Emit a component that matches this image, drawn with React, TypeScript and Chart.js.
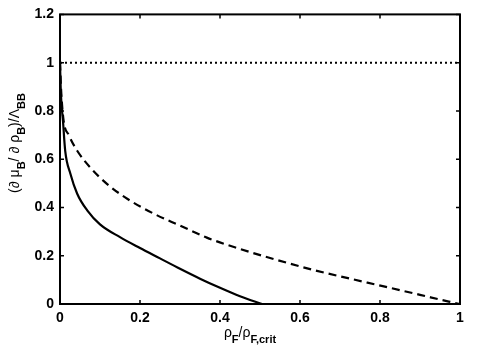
import React, { useEffect, useRef } from "react";
import { Chart, registerables } from "chart.js";

Chart.register(...registerables);

const solidX = [0, 0.002, 0.0076, 0.013, 0.026, 0.043, 0.068, 0.1, 0.15, 0.2, 0.25, 0.3, 0.35, 0.4, 0.45, 0.505];
const solidY = [1, 0.88, 0.755, 0.635, 0.54, 0.457, 0.388, 0.33, 0.277, 0.232, 0.189, 0.146, 0.105, 0.067, 0.032, 0];

const dashedX = [0, 0.003, 0.009, 0.022, 0.043, 0.076, 0.118, 0.169, 0.236, 0.3, 0.367, 0.45, 0.514, 0.636, 0.72, 0.804, 0.9, 0.972, 1];
const dashedY = [1, 0.88, 0.76, 0.7, 0.635, 0.565, 0.497, 0.435, 0.373, 0.325, 0.275, 0.228, 0.196, 0.14, 0.107, 0.075, 0.038, 0.01, 0];

const dottedX = [0, 1];
const dottedY = [1, 1];

const xTicks = [0, 0.2, 0.4, 0.6, 0.8, 1];
const yTicks = [0, 0.2, 0.4, 0.6, 0.8, 1, 1.2];

type Seg = { t: string; sub?: boolean };

const xTitle: Seg[] = [
  { t: "ρ" }, { t: "F", sub: true }, { t: "/ρ" }, { t: "F,crit", sub: true },
];
const yTitle: Seg[] = [
  { t: "(∂ μ" }, { t: "B", sub: true }, { t: "/ ∂ ρ" }, { t: "B", sub: true }, { t: ")/Λ" }, { t: "BB", sub: true },
];

const MAIN_FONT = "14px 'Liberation Sans', Arial, sans-serif";
const SUB_FONT = "bold 11px 'Liberation Sans', Arial, sans-serif";

function drawRich(ctx: CanvasRenderingContext2D, segs: Seg[], cx: number, cy: number, angle: number) {
  ctx.save();
  let total = 0;
  const widths = segs.map((s) => {
    ctx.font = s.sub ? SUB_FONT : MAIN_FONT;
    const w = ctx.measureText(s.t).width;
    total += w;
    return w;
  });
  ctx.translate(cx, cy);
  ctx.rotate(angle);
  ctx.fillStyle = "#000";
  ctx.textBaseline = "alphabetic";
  ctx.textAlign = "left";
  let x = -total / 2;
  segs.forEach((s, i) => {
    ctx.font = s.sub ? SUB_FONT : MAIN_FONT;
    ctx.fillText(s.t, x, s.sub ? 6 : 0);
    x += widths[i];
  });
  ctx.restore();
}

const framePlugin = {
  id: "frame",
  afterDraw(chart: any) {
    const ctx: CanvasRenderingContext2D = chart.ctx;
    const a = chart.chartArea;
    const xs = chart.scales.x;
    const ys = chart.scales.y;
    ctx.save();
    ctx.strokeStyle = "#000";
    ctx.lineWidth = 2;
    ctx.strokeRect(a.left, a.top, a.right - a.left, a.bottom - a.top);
    ctx.lineWidth = 1.5;
    ctx.beginPath();
    xTicks.forEach((v) => {
      const px = xs.getPixelForValue(v);
      ctx.moveTo(px, a.bottom);
      ctx.lineTo(px, a.bottom - 4);
      ctx.moveTo(px, a.top);
      ctx.lineTo(px, a.top + 4);
    });
    yTicks.forEach((v) => {
      const py = ys.getPixelForValue(v);
      ctx.moveTo(a.left, py);
      ctx.lineTo(a.left + 4, py);
      ctx.moveTo(a.right, py);
      ctx.lineTo(a.right - 4, py);
    });
    ctx.stroke();
    ctx.restore();
    drawRich(ctx, xTitle, 250, 337, 0);
    drawRich(ctx, yTitle, 19, 143, -Math.PI / 2);
  },
};

export default function App() {
  const ref = useRef<HTMLCanvasElement | null>(null);
  useEffect(() => {
    document.body.style.margin = "0";
    const pts = (xs: number[], ys: number[]) => xs.map((x, i) => ({ x, y: ys[i] }));
    const chart = new Chart(ref.current!, {
      type: "line",
      data: {
        datasets: [
          {
            data: pts(dottedX, dottedY),
            borderColor: "#000",
            borderWidth: 2,
            borderDash: [2, 3],
            pointRadius: 0,
            fill: false,
          },
          {
            data: pts(dashedX, dashedY),
            borderColor: "#000",
            borderWidth: 2.2,
            borderDash: [8, 5],
            pointRadius: 0,
            cubicInterpolationMode: "monotone",
            fill: false,
          },
          {
            data: pts(solidX, solidY),
            borderColor: "#000",
            borderWidth: 2.2,
            pointRadius: 0,
            cubicInterpolationMode: "monotone",
            fill: false,
          },
        ],
      },
      options: {
        responsive: false,
        animation: false,
        layout: { padding: { top: 13, right: 20, left: 0, bottom: 0 } },
        plugins: { legend: { display: false }, tooltip: { enabled: false } },
        scales: {
          x: {
            type: "linear",
            min: 0,
            max: 1,
            afterBuildTicks: (s: any) => { s.ticks = xTicks.map((v) => ({ value: v })); },
            afterFit: (s: any) => { s.height = 50; },
            grid: { display: false, drawTicks: false },
            border: { display: false },
            ticks: {
              color: "#000",
              padding: 6,
              maxRotation: 0,
              font: { family: "'Liberation Sans', Arial, sans-serif", size: 14, weight: "bold" },
              callback: (v: any) => String(Math.round(Number(v) * 10) / 10),
            },
          },
          y: {
            type: "linear",
            min: 0,
            max: 1.2,
            afterBuildTicks: (s: any) => { s.ticks = yTicks.map((v) => ({ value: v })); },
            afterFit: (s: any) => { s.width = 60; },
            grid: { display: false, drawTicks: false },
            border: { display: false },
            ticks: {
              color: "#000",
              padding: 6,
              font: { family: "'Liberation Sans', Arial, sans-serif", size: 14, weight: "bold" },
              callback: (v: any) => String(Math.round(Number(v) * 10) / 10),
            },
          },
        },
      },
      plugins: [framePlugin],
    } as any);
    return () => chart.destroy();
  }, []);
  return (
    <div style={{ width: 480, height: 354 }}>
      <canvas ref={ref} width={480} height={354} />
    </div>
  );
}
